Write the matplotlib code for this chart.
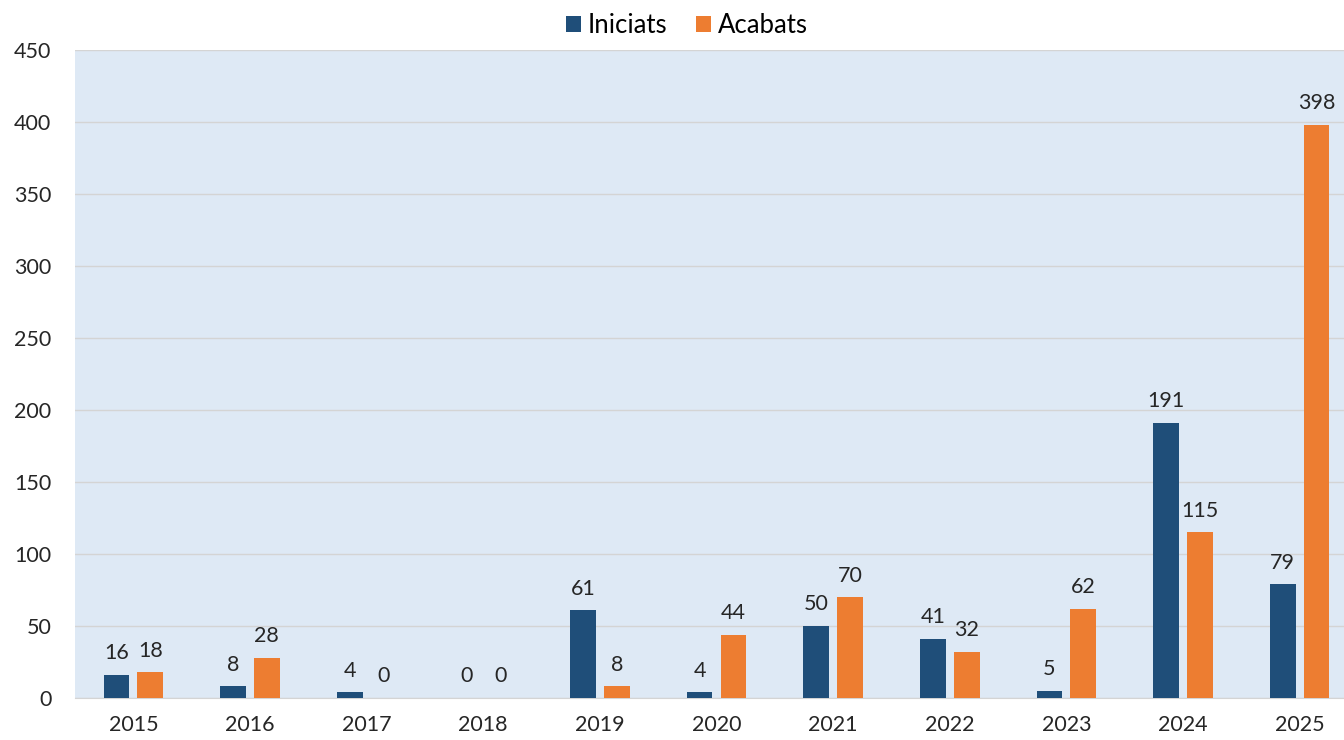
import matplotlib
matplotlib.use("Agg")
import matplotlib.pyplot as plt
import numpy as np

plt.rcParams["font.family"] = ["Lato", "DejaVu Sans"]

years = ["2015", "2016", "2017", "2018", "2019", "2020", "2021", "2022", "2023", "2024", "2025"]
iniciats = [16, 8, 4, 0, 61, 4, 50, 41, 5, 191, 79]
acabats = [18, 28, 0, 0, 8, 44, 70, 32, 62, 115, 398]

navy = "#1F4E79"
orange = "#ED7D31"

fig = plt.figure(figsize=(13.44, 7.4), dpi=100)
ax = fig.add_axes([75 / 1344, 1 - 698 / 740, 1283 / 1344, 648 / 740])
ax.set_facecolor("#DEE9F5")

x = np.arange(len(years))
w = 0.22
off = 0.145
b1 = ax.bar(x - off, iniciats, w, color=navy, label="Iniciats", zorder=3)
b2 = ax.bar(x + off, acabats, w, color=orange, label="Acabats", zorder=3)

for bars in (b1, b2):
    for rect in bars:
        h = rect.get_height()
        ax.text(rect.get_x() + rect.get_width() / 2, h + 8, f"{int(h)}",
                ha="center", va="bottom", fontsize=15.5, color="#262626")

ax.set_xlim(-0.5, len(years) - 0.5)
ax.set_ylim(0, 450)
ax.set_yticks(np.arange(0, 451, 50))
ax.set_xticks(x)
ax.set_xticklabels(years)
ax.tick_params(axis="both", length=0, labelsize=15.5, colors="#262626")
ax.tick_params(axis="x", pad=12)
ax.tick_params(axis="y", pad=17)
ax.grid(axis="y", color="#D4D4D4", linewidth=1, zorder=0)
for s in ["top", "right", "left"]:
    ax.spines[s].set_visible(False)
ax.spines["bottom"].set_color("#D4D4D4")

fig.legend(handles=[b1, b2], loc="upper center", bbox_to_anchor=(0.511, 1.014), ncol=2,
           frameon=False, fontsize=18.5, handlelength=0.6, handleheight=0.6,
           handletextpad=0.25, columnspacing=1.1)

fig.savefig("out.png", dpi=100, facecolor="white")
